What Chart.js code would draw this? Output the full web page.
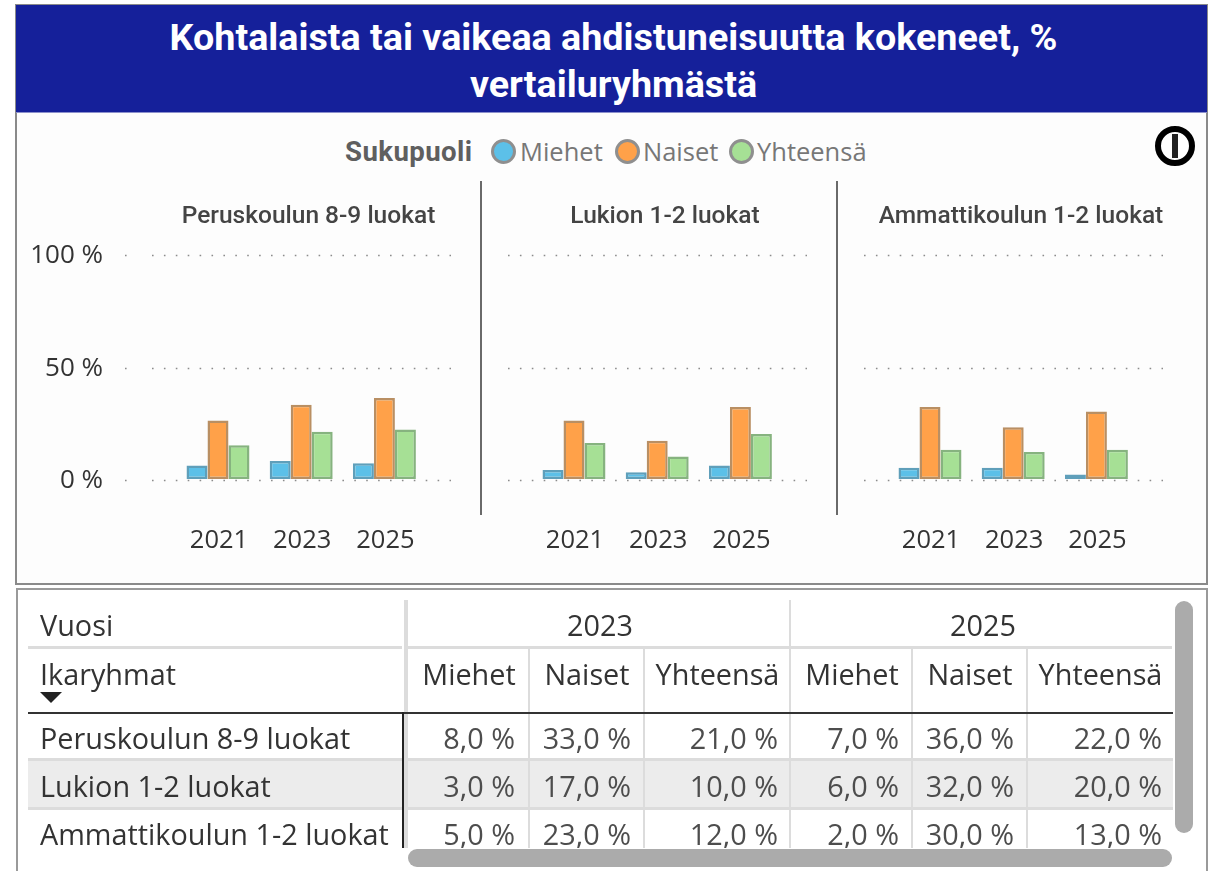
<!DOCTYPE html>
<html lang="fi"><head><meta charset="utf-8">
<script src="https://cdn.jsdelivr.net/npm/chart.js@4"></script>
<style>
html,body{margin:0;padding:0;background:#fff;overflow:hidden}
#page{position:relative;width:1216px;height:871px;overflow:hidden;filter:blur(.4px);font-family:"Open Sans",sans-serif}
#page>*{position:absolute}
canvas{position:absolute}
.t{position:absolute;white-space:nowrap}
</style></head><body><div id="page"></div>
<script>
const chartTitle=["Kohtalaista tai vaikeaa ahdistuneisuutta kokeneet, %","vertailuryhmästä"];
const legendTitle="Sukupuoli";
const years=["2021","2023","2025"];
const groups=["Peruskoulun 8-9 luokat","Lukion 1-2 luokat","Ammattikoulun 1-2 luokat"];
const series=["Miehet","Naiset","Yhteensä"];
const miehet=[[6,8,7],[4,3,6],[5,5,2]];
const naiset=[[26,33,36],[26,17,32],[32,23,30]];
const yhteensa=[[15,21,22],[16,10,20],[13,12,13]];
const yTicks=[0,50,100];
const tableYears=["2023","2025"];
const tableCorner=["Vuosi","Ikaryhmat"];
const fills=["#5cc0e8","#ffa149","#a6e095"];
const edges=["#5f9fba","#b98f63","#86b37f"];

const page=document.getElementById("page");
function box(l,t,w,h,css){const d=document.createElement("div");d.style.cssText=`left:${l}px;top:${t}px;width:${w}px;height:${h}px;position:absolute;${css||""}`;page.appendChild(d);return d}
function text(s,x,cy,css,align){const d=document.createElement("div");d.className="t";d.textContent=s;
 const tr=align==="r"?"translate(-100%,-50%)":align==="c"?"translate(-50%,-50%)":"translateY(-50%)";
 d.style.cssText=`left:${x}px;top:${cy}px;transform:${tr};${css||""}`;page.appendChild(d);return d}

// frames
box(15,4,1193,581,"box-sizing:border-box;border:2px solid #8a8a8a;background:#fdfdfd");
box(16,5,1191,107,"background:#15209a");
box(16,112,1191,1,"background:#8c90cc");
box(16,588,1192,290,"box-sizing:border-box;border:2px solid #9a9a9a;background:#fff");
const titleCss='font:700 37.7px Roboto,sans-serif;color:#fff';
text(chartTitle[0],613.5,37,titleCss,"c");
text(chartTitle[1],613.5,84,titleCss,"c");

// legend
text(legendTitle,345,151,'font:700 27.6px Roboto,sans-serif;color:#5f5f5f;letter-spacing:.4px');
const lg=[[503,520],[627,643],[741,757]];
series.forEach((s,i)=>{
 box(lg[i][0]-12.5,138.5,25,25,`box-sizing:border-box;border:3px solid #8f8f8f;border-radius:50%;background:${fills[i]}`);
 text(s,lg[i][1],151,'font:400 25.5px "Open Sans",sans-serif;color:#777');
});
// info icon
box(1155,126,40,40,"box-sizing:border-box;border:6.5px solid #000;border-radius:50%;background:#fff");
box(1172,134,6,24,"background:#222");
// separators
box(480,181,2,334,"background:#6a6a6a");
box(836,181,2,334,"background:#6a6a6a");

// charts
const gridPlugin={id:"extendedGrid",
 afterLayout(c,a,o){c.titleBlock.left=o.titleCentre-170;c.titleBlock.right=o.titleCentre+170;},
 beforeDatasetsDraw(c,a,o){
 const y=c.scales.y,ctx=c.ctx;ctx.save();ctx.strokeStyle="#8c8c8c";ctx.lineWidth=1.6;ctx.setLineDash([1.6,10.3]);
 y.ticks.forEach(t=>{const p=Math.round(y.getPixelForValue(t.value))+1.5;
  ctx.beginPath();ctx.moveTo(o.from,p);ctx.lineTo(o.to,p);ctx.stroke();
  if(o.stray!=null){ctx.beginPath();ctx.moveTo(o.stray,p);ctx.lineTo(o.stray+1.6,p);ctx.stroke();}
 });ctx.restore();}};
const layouts=[
 {cl:25,cr:470,pl:176.4,pr:426,gf:152,gt:451,tc:308.5,stray:125,axis:true},
 {cl:490,cr:825,pl:532.4,pr:782,gf:508,gt:807,tc:665},
 {cl:850,cr:1192,pl:888.4,pr:1138,gf:864,gt:1163,tc:1021}];
groups.forEach((g,i)=>{
 const L=layouts[i],cv=document.createElement("canvas"),W=L.cr-L.cl,H=375;
 cv.width=W;cv.height=H;cv.style.cssText=`left:${L.cl}px;top:195px;width:${W}px;height:${H}px`;page.appendChild(cv);
 const vals=[miehet[i],naiset[i],yhteensa[i]];
 new Chart(cv,{type:"bar",plugins:[gridPlugin],data:{labels:years,datasets:series.map((s,k)=>({
   label:s,data:vals[k],backgroundColor:fills[k],borderColor:edges[k],borderWidth:2.5,borderSkipped:false,
   categoryPercentage:.757,barPercentage:1}))},
  options:{responsive:false,animation:false,devicePixelRatio:1,
   layout:{padding:{left:L.axis?0:L.pl-L.cl,right:L.cr-L.pr,top:0,bottom:0}},
   plugins:{legend:{display:false},tooltip:{enabled:false},
    title:{display:true,text:g,color:"#444",font:{family:"Roboto",size:24.5,weight:"500",lineHeight:24/24.5},padding:{top:10,bottom:25}},
    extendedGrid:{from:L.gf-L.cl,to:L.gt-L.cl,titleCentre:L.tc-L.cl,stray:L.stray!=null?L.stray-L.cl:null}},
   scales:{
    x:{grid:{display:false},border:{display:false},afterFit(s){s.height=91},
       ticks:{color:"#333",font:{family:"Open Sans",size:25.5},padding:38,labelOffset:1,maxRotation:0,autoSkip:false}},
    y:{display:!!L.axis,min:0,max:100,grid:{display:false,drawTicks:false},border:{display:false},
       afterFit(s){if(L.axis){s.width=L.pl-L.cl;s.paddingTop=0;s.paddingBottom=0}},afterBuildTicks(s){s.ticks=yTicks.map(v=>({value:v}))},
       ticks:{color:"#333",font:{family:"Open Sans",size:26},padding:L.pl-103,labelOffset:2,callback:v=>v+" %"}}
   }}});
});

// table
const line="#dcdcdc";
box(28,759,1145,49,"background:#ececec");
const corner=[[624,tableCorner[0]],[673,tableCorner[1]]];
const tCss='font:400 28.8px "Open Sans",sans-serif;color:#333';
const vCss='font:400 28.8px "Open Sans",sans-serif;color:#4d4d4d';
corner.forEach(c=>text(c[1],40,c[0],tCss));
box(40,692,23,0,"border-left:11px solid transparent;border-right:11px solid transparent;border-top:11px solid #222;width:0;height:0");
box(28,646,374,3,`background:${line}`);box(408,646,764,3,`background:${line}`);
box(403.5,600,4,248,`background:${line}`);
box(789,600,2,248,`background:${line}`);
[529,644,912,1027].forEach(x=>box(x-1,648,2,200,`background:${line}`));
[759,808].forEach(y=>box(28,y-1.5,1145,3,`background:${line}`));
box(28,711.5,1145,2,"background:#333");
box(401.5,712,2,136,"background:#222");
text(tableYears[0],600,624,tCss,"c");text(tableYears[1],983,624,tCss,"c");
const rightX=[515,631,778,899,1014,1162];
const headerCentres=[469,587,717.5,852,970,1100.5];
const rowCy=[737,785,833];
const fmt=v=>v.toFixed(1).replace(".",",")+" %";
const sets=[miehet,naiset,yhteensa];
[0,1].forEach(yi=>series.forEach((s,k)=>{
 const col=yi*3+k;
 text(s,headerCentres[col],673,tCss,"c");
 groups.forEach((g,r)=>{
  text(fmt(sets[k][r][yi+1]),rightX[col],rowCy[r],vCss,"r");
 });
}));
groups.forEach((g,r)=>text(g,40,rowCy[r],tCss));
// mask clipping under the last row, then scrollbars
box(28,848,1170,21,"background:#fff");
box(1175,601,18,232,"background:#ababab;border-radius:9px");
box(408,849,764,18,"background:#ababab;border-radius:9px");
</script></body></html>
